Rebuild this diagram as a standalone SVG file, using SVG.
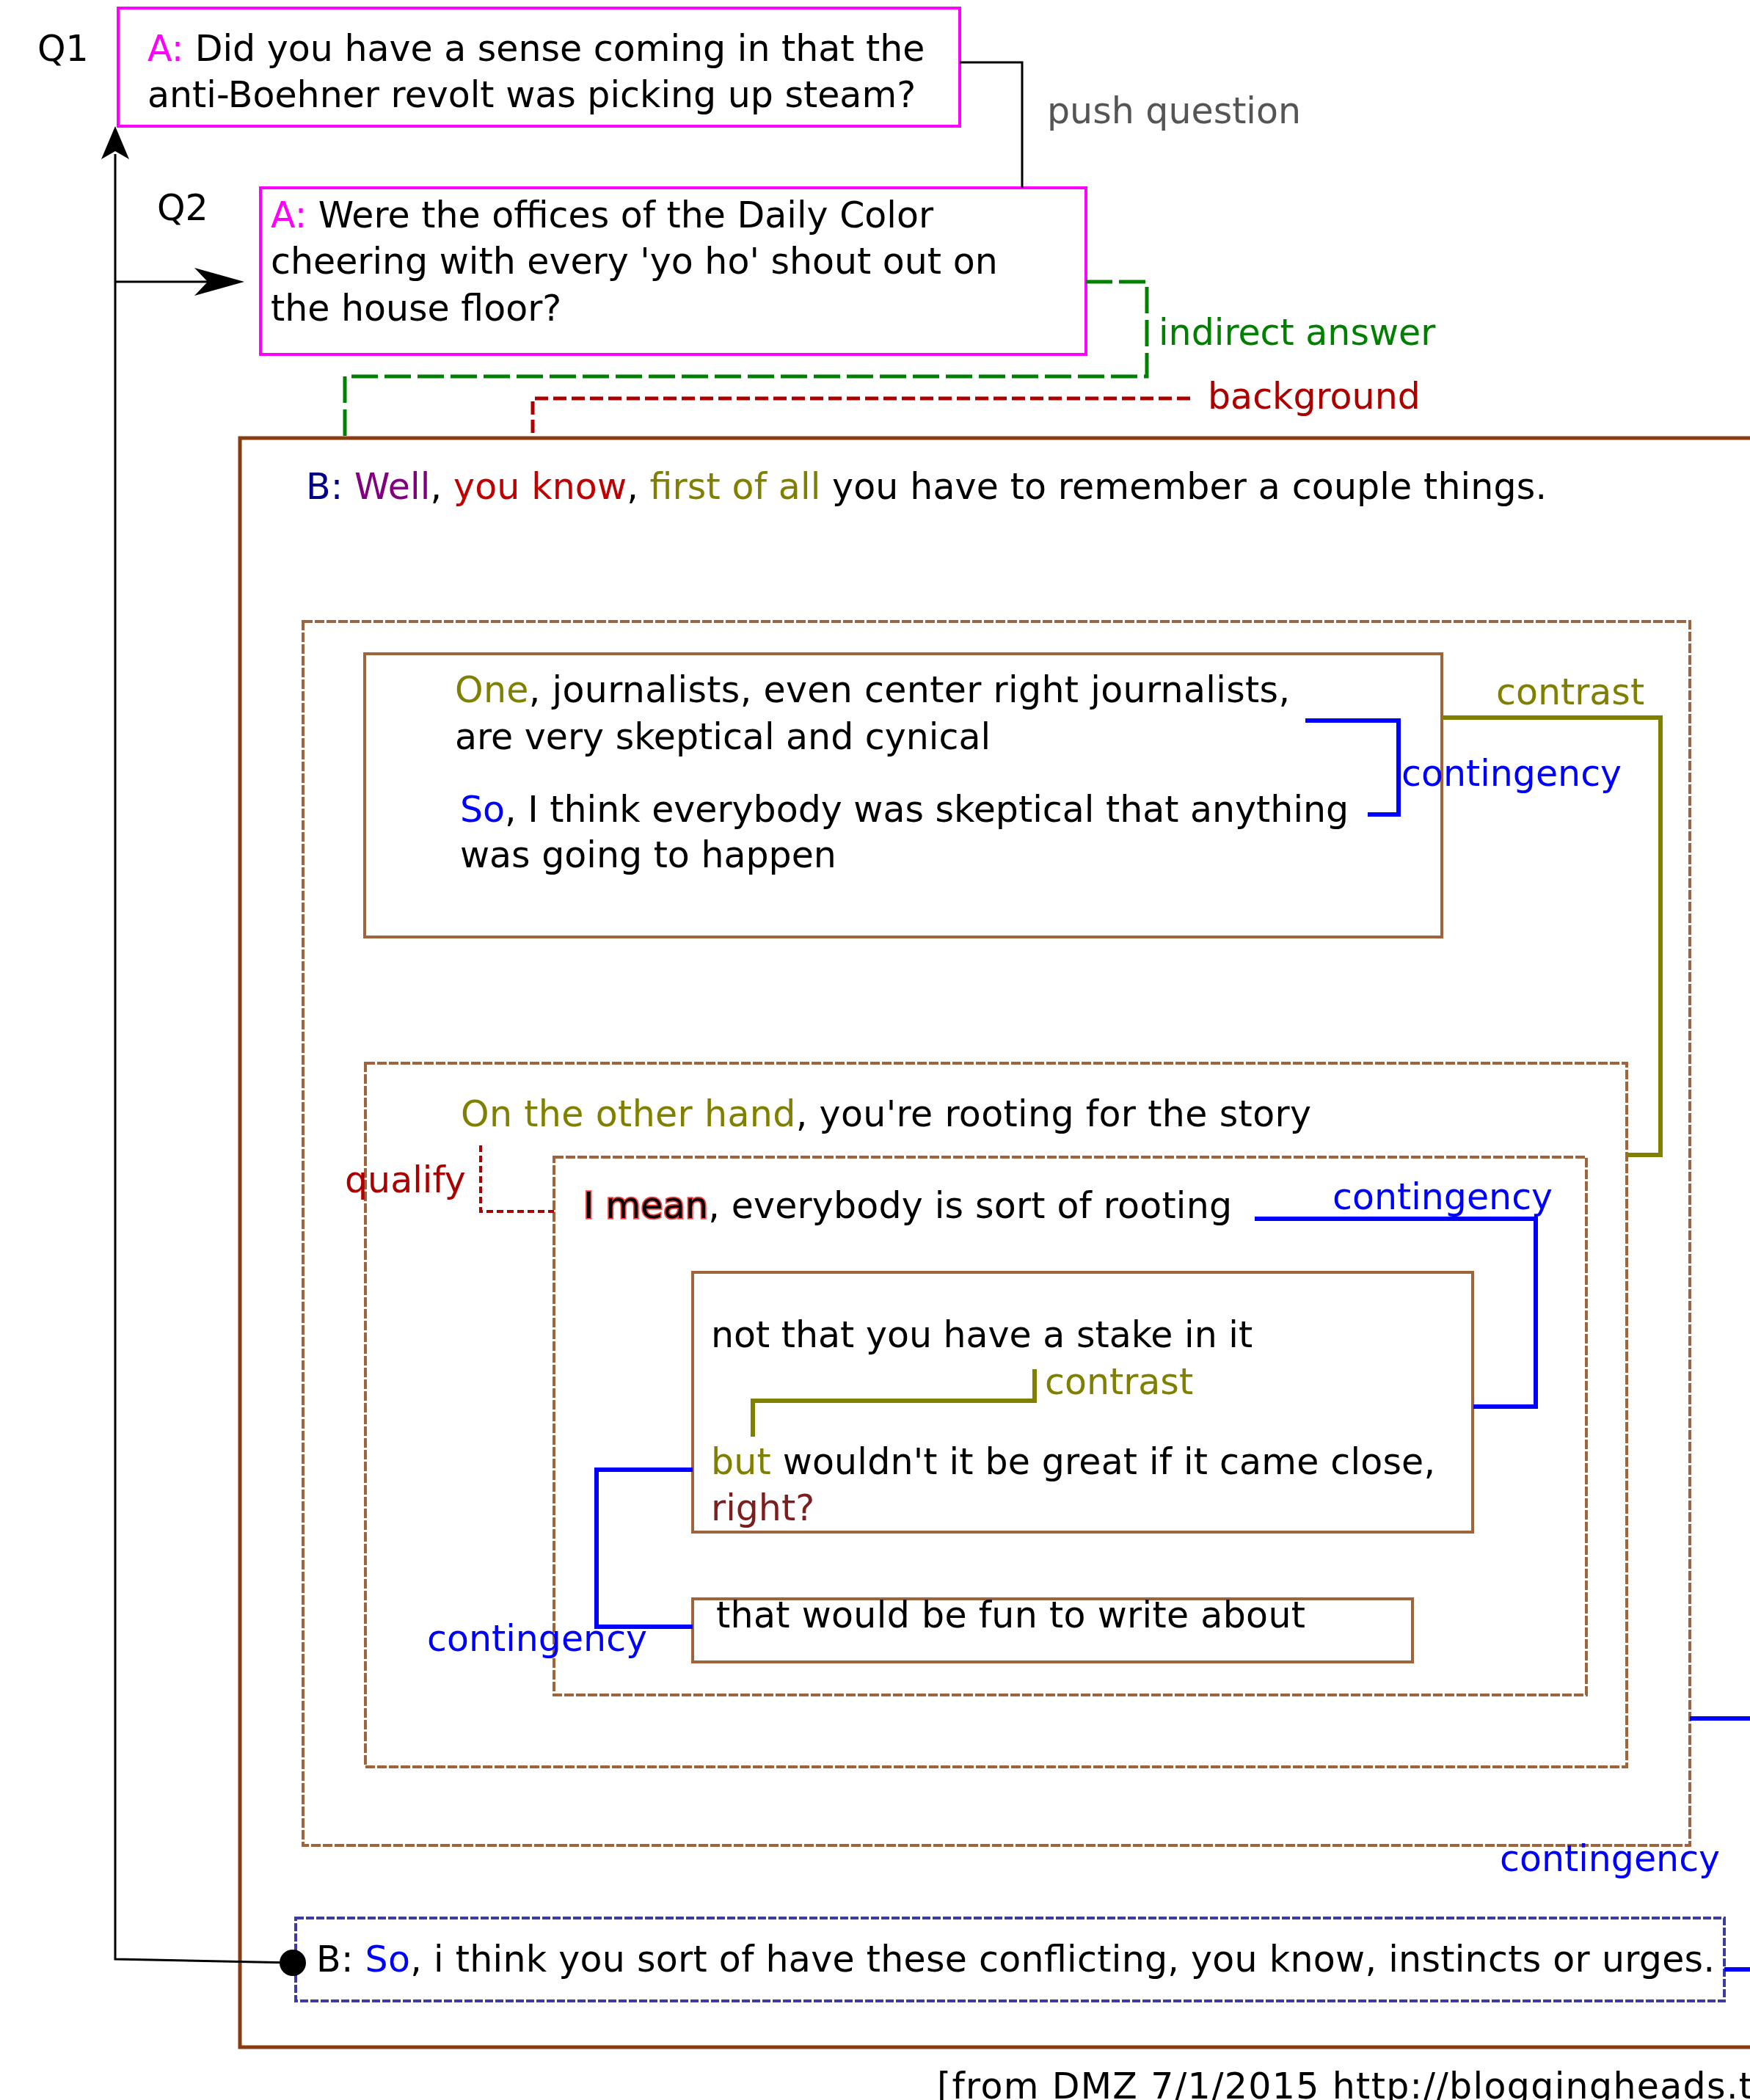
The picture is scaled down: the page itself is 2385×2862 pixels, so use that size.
<svg xmlns="http://www.w3.org/2000/svg" width="2385" height="2862" viewBox="0 0 2385 2862">
<style>
text{font-family:"DejaVu Sans","Liberation Sans",sans-serif;font-size:49px;fill:#000}
.q{fill:none;stroke:#ff00ff;stroke-width:4}
.main{fill:none;stroke:#8a3b0f;stroke-width:5}
.sol{fill:none;stroke:#a0643c;stroke-width:4}
.dsh{fill:none;stroke:#a0643c;stroke-width:4;stroke-dasharray:13 3}
.nav{fill:none;stroke:#3c3ca0;stroke-width:4;stroke-dasharray:11 3}
.blk{fill:none;stroke:#000;stroke-width:3}
.blu{fill:none;stroke:#0000ff;stroke-width:6}
.olv{fill:none;stroke:#808000;stroke-width:6}
.grn{fill:none;stroke:#008000;stroke-width:5;stroke-dasharray:36 9}
.red{fill:none;stroke:#aa0000;stroke-width:5;stroke-dasharray:18 7}
.redq{fill:none;stroke:#aa0000;stroke-width:4;stroke-dasharray:9 5}
.mag{fill:#ff00ff}.nvy{fill:#000080}.pur{fill:#800080}.rd{fill:#c00000}.ol{fill:#808000}.bl{fill:#0000ff}.gr{fill:#008000}.dr{fill:#aa0000}.br{fill:#7a1e1e}.gy{fill:#555555}
.im{stroke:#ff4040;stroke-width:3.5;paint-order:stroke}
</style>
<rect width="2385" height="2862" fill="#fff"/>

<g id="Q1">
<rect class="q" x="161" y="11" width="1147" height="161"/>
<text x="51" y="83">Q1</text>
<text x="201" y="83"><tspan class="mag">A:</tspan> Did you have a sense coming in that the</text>
<text x="201" y="146">anti-Boehner revolt was picking up steam?</text>
</g>

<g id="Q2">
<rect class="q" x="355" y="256" width="1125" height="227"/>
<text x="214" y="300">Q2</text>
<text x="369" y="310"><tspan class="mag">A:</tspan> Were the offices of the Daily Color</text>
<text x="369" y="373">cheering with every 'yo ho' shout out on</text>
<text x="369" y="437">the house floor?</text>
</g>

<g id="B_main">
<rect class="main" x="327" y="597" width="2100" height="2193"/>
<text x="417" y="680" textLength="1691" lengthAdjust="spacing"><tspan class="nvy">B:</tspan> <tspan class="pur">Well</tspan>, <tspan class="rd">you know</tspan>, <tspan class="ol">first of all</tspan> you have to remember a couple things.</text>
</g>

<g id="group1">
<rect class="dsh" x="413" y="847" width="1890" height="1668"/>
</g>

<g id="boxA">
<rect class="sol" x="497" y="891" width="1468" height="386"/>
<text x="620" y="957" textLength="1138" lengthAdjust="spacing"><tspan class="ol">One</tspan>, journalists, even center right journalists,</text>
<text x="620" y="1021">are very skeptical and cynical</text>
<text x="627" y="1120"><tspan class="bl">So</tspan>, I think everybody was skeptical that anything</text>
<text x="627" y="1182">was going to happen</text>
</g>

<g id="boxB">
<rect class="dsh" x="498" y="1449" width="1719" height="959"/>
<text x="628" y="1535" textLength="1159" lengthAdjust="spacing"><tspan class="ol">On the other hand</tspan>, you're rooting for the story</text>
</g>

<g id="boxC">
<rect class="dsh" x="755" y="1577" width="1407" height="733"/>
<text x="795" y="1660" textLength="884" lengthAdjust="spacing"><tspan class="im">I mean</tspan>, everybody is sort of rooting</text>
</g>

<g id="boxD">
<rect class="sol" x="944" y="1734" width="1063" height="354"/>
<text x="969" y="1836">not that you have a stake in it</text>
<text x="969" y="2009" textLength="987" lengthAdjust="spacing"><tspan class="ol">but</tspan> wouldn't it be great if it came close,</text>
<text x="969" y="2072" class="br">right?</text>
</g>

<g id="boxE">
<rect class="sol" x="944" y="2179" width="981" height="86"/>
<text x="976" y="2218" textLength="803" lengthAdjust="spacing">that would be fun to write about</text>
</g>

<g id="boxF">
<rect class="nav" x="403" y="2614" width="1947" height="113"/>
<text x="431" y="2687" textLength="1906" lengthAdjust="spacing">B: <tspan class="bl">So</tspan>, i think you sort of have these conflicting, you know, instincts or urges.</text>
</g>

<g id="connectors">
<path class="blk" stroke-width="4" d="M1308 85H1393V256"/>
<text x="1427" y="168" class="gy">push question</text>

<path class="grn" d="M1480 384H1563V513H470V597"/>
<text x="1579" y="470" class="gr">indirect answer</text>

<path class="red" d="M1622 543H726V597"/>
<text x="1646" y="557" class="dr">background</text>

<path class="blu" d="M1779 982H1906V1110H1864"/>
<text x="1910" y="1071" class="bl">contingency</text>

<path class="olv" d="M1965 978H2263V1574H2217"/>
<text x="2039" y="960" class="ol">contrast</text>

<path class="redq" d="M655 1561V1651H755"/>
<text x="470" y="1625" class="dr">qualify</text>

<path class="blu" d="M1710 1661H2093V1917H2008"/>
<text x="1816" y="1648" class="bl">contingency</text>

<path class="olv" d="M1026 1958V1909H1410V1866"/>
<text x="1424" y="1900" class="ol">contrast</text>

<path class="blu" d="M944 2003H813V2217H944"/>
<text x="582" y="2250" class="bl">contingency</text>

<path class="blu" d="M2303 2342H2385"/>
<text x="2044" y="2550" class="bl">contingency</text>

<path class="blu" d="M2350 2684H2385"/>

<path class="blk" d="M399 2675L157 2670V210"/>
<path d="M157 172L176 217L157 206L138 217Z" fill="#000"/>
<path class="blk" d="M157 384H285"/>
<path d="M333 384L265 365L283 384L265 403Z" fill="#000"/>
<circle cx="399" cy="2675" r="18" fill="#000"/>
</g>

<text x="1277" y="2860" textLength="1112" lengthAdjust="spacing">[from DMZ 7/1/2015 http://bloggingheads.t</text>
</svg>
